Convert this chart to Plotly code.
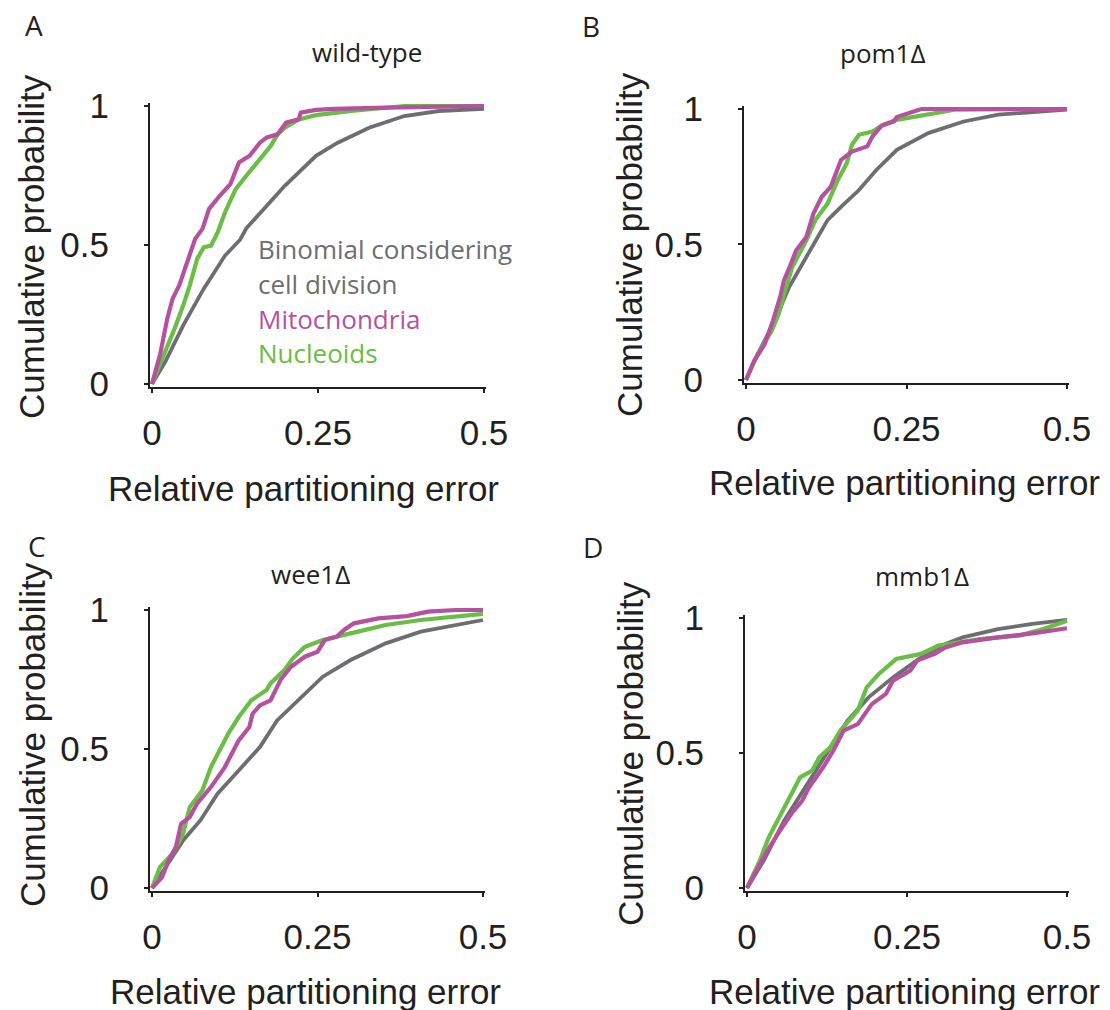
import plotly.graph_objects as go

# ---------------- data ----------------
x_ticks = [0, 0.25, 0.5]
x_tick_text = ["0", "0.25", "0.5"]
y_ticks = [0, 0.5, 1]
y_tick_text = ["0", "0.5", "1"]

panel_titles = ["wild-type", "pom1Δ", "wee1Δ", "mmb1Δ"]
panel_letters = ["A", "B", "C", "D"]
series_names = ["Binomial considering cell division", "Nucleoids", "Mitochondria"]
x_title = "Relative partitioning error"
y_title = "Cumulative probability"

# Panel A: wild-type
wt_binom_x = [0, 0.02, 0.047, 0.078, 0.11, 0.133, 0.142, 0.173, 0.2, 0.247, 0.279, 0.327, 0.38, 0.432, 0.5]
wt_binom_y = [0, 0.08, 0.211, 0.343, 0.462, 0.52, 0.560, 0.642, 0.713, 0.821, 0.867, 0.922, 0.964, 0.982, 0.99]
wt_nuc_x = [0, 0.02, 0.036, 0.047, 0.057, 0.068, 0.078, 0.089, 0.099, 0.11, 0.126, 0.142, 0.163, 0.179, 0.189, 0.2, 0.221, 0.247, 0.3, 0.38, 0.5]
wt_nuc_y = [0, 0.116, 0.211, 0.283, 0.355, 0.45, 0.492, 0.498, 0.546, 0.618, 0.701, 0.749, 0.809, 0.857, 0.898, 0.922, 0.952, 0.967, 0.982, 1.0, 1.0]
wt_mito_x = [0, 0.012, 0.023, 0.031, 0.041, 0.052, 0.065, 0.076, 0.086, 0.102, 0.118, 0.131, 0.147, 0.163, 0.173, 0.189, 0.202, 0.221, 0.224, 0.247, 0.274, 0.353, 0.5]
wt_mito_y = [0, 0.104, 0.235, 0.307, 0.355, 0.427, 0.522, 0.558, 0.63, 0.677, 0.719, 0.797, 0.821, 0.869, 0.887, 0.898, 0.94, 0.952, 0.976, 0.986, 0.99, 0.994, 1.0]

# Panel B: pom1
pom_binom_x = [0, 0.018, 0.045, 0.067, 0.094, 0.127, 0.148, 0.176, 0.203, 0.235, 0.284, 0.339, 0.393, 0.5]
pom_binom_y = [0, 0.095, 0.219, 0.342, 0.454, 0.59, 0.639, 0.701, 0.775, 0.849, 0.911, 0.954, 0.979, 0.998]
pom_nuc_x = [0, 0.018, 0.04, 0.051, 0.061, 0.072, 0.083, 0.094, 0.108, 0.127, 0.143, 0.157, 0.165, 0.176, 0.197, 0.214, 0.235, 0.284, 0.327, 0.5]
pom_nuc_y = [0, 0.095, 0.182, 0.244, 0.33, 0.417, 0.466, 0.515, 0.59, 0.651, 0.738, 0.80, 0.868, 0.905, 0.917, 0.942, 0.96, 0.979, 0.998, 1.0]
pom_mito_x = [0, 0.0125, 0.029, 0.042, 0.053, 0.059, 0.07, 0.078, 0.094, 0.105, 0.118, 0.132, 0.148, 0.165, 0.189, 0.197, 0.211, 0.23, 0.235, 0.273, 0.5]
pom_mito_y = [0, 0.07, 0.132, 0.219, 0.305, 0.367, 0.429, 0.478, 0.528, 0.614, 0.676, 0.713, 0.812, 0.843, 0.862, 0.899, 0.938, 0.954, 0.97, 1.0, 1.0]

# Panel C: wee1
wee_binom_x = [0, 0.02, 0.047, 0.073, 0.099, 0.131, 0.163, 0.189, 0.226, 0.258, 0.3, 0.353, 0.406, 0.5]
wee_binom_y = [0, 0.075, 0.171, 0.243, 0.339, 0.423, 0.507, 0.603, 0.688, 0.76, 0.82, 0.88, 0.922, 0.964]
wee_nuc_x = [0, 0.012, 0.031, 0.047, 0.057, 0.076, 0.089, 0.099, 0.115, 0.131, 0.15, 0.173, 0.179, 0.2, 0.213, 0.231, 0.258, 0.3, 0.353, 0.406, 0.5]
wee_nuc_y = [0, 0.075, 0.123, 0.195, 0.291, 0.351, 0.435, 0.483, 0.555, 0.615, 0.675, 0.712, 0.736, 0.784, 0.826, 0.868, 0.892, 0.916, 0.946, 0.964, 0.986]
wee_mito_x = [0, 0.015, 0.025, 0.036, 0.044, 0.057, 0.068, 0.089, 0.11, 0.131, 0.147, 0.152, 0.163, 0.179, 0.194, 0.21, 0.231, 0.25, 0.261, 0.279, 0.29, 0.305, 0.342, 0.385, 0.417, 0.459, 0.5]
wee_mito_y = [0, 0.038, 0.099, 0.147, 0.231, 0.255, 0.303, 0.363, 0.435, 0.531, 0.579, 0.627, 0.657, 0.675, 0.748, 0.796, 0.832, 0.85, 0.892, 0.904, 0.928, 0.952, 0.97, 0.978, 0.994, 1.0, 1.0]

# Panel D: mmb1
mmb_binom_x = [0, 0.026, 0.058, 0.091, 0.124, 0.157, 0.19, 0.228, 0.272, 0.31, 0.337, 0.392, 0.446, 0.5]
mmb_binom_y = [0, 0.101, 0.249, 0.373, 0.496, 0.62, 0.706, 0.78, 0.854, 0.904, 0.928, 0.959, 0.978, 0.993]
mmb_nuc_x = [0, 0.02, 0.034, 0.053, 0.069, 0.083, 0.102, 0.113, 0.13, 0.146, 0.173, 0.187, 0.206, 0.233, 0.272, 0.299, 0.332, 0.364, 0.425, 0.463, 0.5]
mmb_nuc_y = [0, 0.101, 0.188, 0.274, 0.348, 0.41, 0.435, 0.484, 0.521, 0.583, 0.657, 0.743, 0.793, 0.848, 0.867, 0.898, 0.91, 0.922, 0.935, 0.959, 0.99]
mmb_mito_x = [0, 0.026, 0.048, 0.069, 0.086, 0.097, 0.119, 0.135, 0.151, 0.173, 0.195, 0.217, 0.228, 0.255, 0.266, 0.293, 0.31, 0.337, 0.392, 0.446, 0.5]
mmb_mito_y = [0, 0.114, 0.2, 0.274, 0.323, 0.373, 0.447, 0.509, 0.583, 0.607, 0.681, 0.719, 0.768, 0.805, 0.842, 0.867, 0.891, 0.91, 0.928, 0.943, 0.962]

panels_data = [
    [(wt_binom_x, wt_binom_y), (wt_nuc_x, wt_nuc_y), (wt_mito_x, wt_mito_y)],
    [(pom_binom_x, pom_binom_y), (pom_nuc_x, pom_nuc_y), (pom_mito_x, pom_mito_y)],
    [(wee_binom_x, wee_binom_y), (wee_nuc_x, wee_nuc_y), (wee_mito_x, wee_mito_y)],
    [(mmb_binom_x, mmb_binom_y), (mmb_nuc_x, mmb_nuc_y), (mmb_mito_x, mmb_mito_y)],
]

# ---------------- styling / layout ----------------
W, H = 1110, 1010
GRAY = "#6d6e71"
GREEN = "#6abd45"
MAGENTA = "#b5519f"
INK = "#231f20"
series_colors = [GRAY, GREEN, MAGENTA]
series_widths = [3.8, 4.2, 4.2]

NUM_FONT = "Liberation Sans, Arial, sans-serif"
LBL_FONT = "Open Sans, Noto Sans, sans-serif"

XR = [-0.003, 0.503]
YR = [-0.012, 1.012]

# pixel positions of data (0, 0.5) on x and (0, 1) on y for each panel
panel_px = [
    dict(x0=152, x1=484, y0=384, y1=106),
    dict(x0=746, x1=1067, y0=380, y1=109),
    dict(x0=152, x1=483, y0=888, y1=610),
    dict(x0=747, x1=1067, y0=888, y1=618),
]


def xdom(p0, p1):
    s = (p1 - p0) / 0.5
    left = p0 + XR[0] * s
    right = p0 + XR[1] * s
    return [left / W, right / W]


def ydom(p0, p1):
    s = (p0 - p1) / 1.0
    bottom = p0 - YR[0] * s
    top = p1 - (YR[1] - 1.0) * s
    return [1 - bottom / H, 1 - top / H]


fig = go.Figure()
layout = dict(
    width=W, height=H,
    margin=dict(l=0, r=0, t=0, b=0, pad=0, autoexpand=False),
    paper_bgcolor="white", plot_bgcolor="white",
    showlegend=False,
)

for i, (pdata, px) in enumerate(zip(panels_data, panel_px)):
    n = "" if i == 0 else str(i + 1)
    for (sx, sy), col, lw, name in zip(pdata, series_colors, series_widths, series_names):
        fig.add_trace(go.Scatter(
            x=sx, y=sy, mode="lines", name=name,
            line=dict(color=col, width=lw),
            xaxis="x" + n, yaxis="y" + n, hoverinfo="skip",
        ))
    layout["xaxis" + n] = dict(
        domain=xdom(px["x0"], px["x1"]), range=XR, anchor="y" + n,
        tickvals=x_ticks, ticktext=x_tick_text, automargin=False,
        showline=True, linecolor=INK, linewidth=2,
        ticks="outside", ticklen=4, tickwidth=2, tickcolor=INK,
        showgrid=False, zeroline=False,
        tickfont=dict(family=NUM_FONT, size=35, color=INK),
        ticklabelstandoff=10,
    )
    layout["yaxis" + n] = dict(
        domain=ydom(px["y0"], px["y1"]), range=YR, anchor="x" + n,
        tickvals=y_ticks, ticktext=y_tick_text, automargin=False,
        showline=True, linecolor=INK, linewidth=2,
        ticks="outside", ticklen=4, tickwidth=2, tickcolor=INK,
        showgrid=False, zeroline=False,
        tickfont=dict(family=NUM_FONT, size=35, color=INK),
        ticklabelstandoff=28,
    )

annotations = []


def ann(text, x, y, size, font, color=INK, angle=0, xanchor="center", yanchor="middle"):
    annotations.append(dict(
        text=text, x=x / W, y=1 - y / H, xref="paper", yref="paper",
        showarrow=False, textangle=angle, xanchor=xanchor, yanchor=yanchor,
        font=dict(family=font, size=size, color=color),
    ))


# panel letters
letter_pos = [(34, 25), (591, 26), (37, 546), (593, 547)]
for t, (x, y) in zip(panel_letters, letter_pos):
    ann(t, x, y, 28, LBL_FONT)

# panel titles
title_pos = [(367, 52), (883, 53), (310, 574), (922, 576)]
for t, (x, y) in zip(panel_titles, title_pos):
    ann(t, x, y, 26, LBL_FONT)

# y-axis titles
ytitle_pos = [(31, 247), (629, 245), (32, 735), (630, 754)]
for x, y in ytitle_pos:
    ann(y_title, x, y, 35, NUM_FONT, angle=-90)

# x-axis titles
xtitle_pos = [(303, 488), (904, 482), (305, 991), (904, 991)]
for x, y in xtitle_pos:
    ann(x_title, x, y, 35, NUM_FONT)

# in-plot legend (panel A)
legend_lines = [
    ("Binomial considering", GRAY, 249),
    ("cell division", GRAY, 284),
    ("Mitochondria", MAGENTA, 319),
    ("Nucleoids", GREEN, 353),
]
for t, col, y in legend_lines:
    ann(t, 256, y, 26, LBL_FONT, color=col, xanchor="left")

layout["annotations"] = annotations
fig.update_layout(**layout)
fig.write_html("out.html")
